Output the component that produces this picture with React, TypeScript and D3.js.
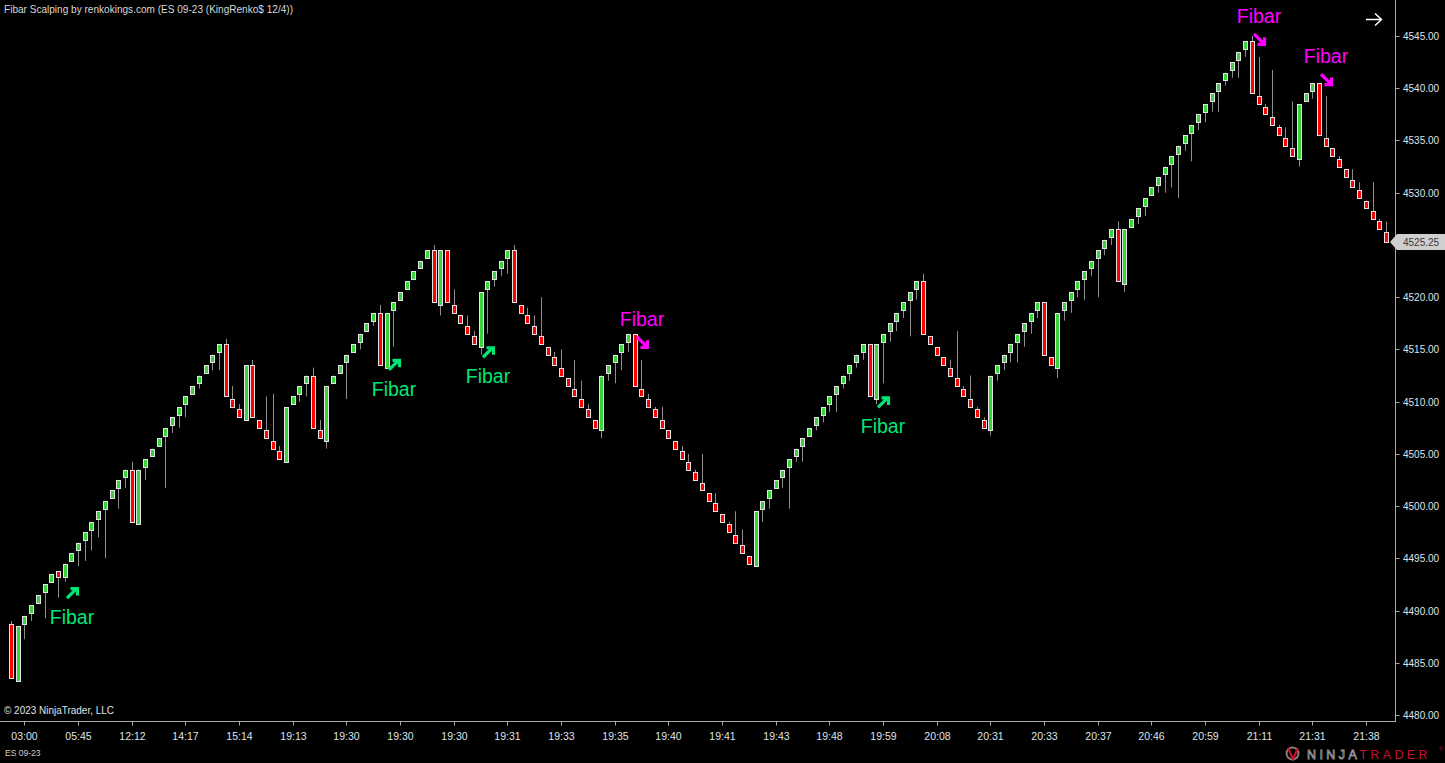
import React from "react";
import * as d3 from "d3";

// renko bars, ES 09-23 (one entry per brick)
const opens = [
  4488.75, 4483.25, 4488.75, 4489.75, 4490.75, 4491.75, 4492.75, 4493.75, 4493.25, 4494.75,
  4495.75, 4496.75, 4497.75, 4498.75, 4499.75, 4500.75, 4501.75, 4502.75, 4503.5, 4498.25,
  4503.75, 4504.75, 4505.75, 4506.75, 4507.75, 4508.75, 4509.75, 4510.75, 4511.75, 4512.75,
  4513.75, 4514.75, 4515.5, 4510.25, 4509.25, 4508.25, 4513.5, 4508.25, 4507.25, 4506.25,
  4505.25, 4504.25, 4509.75, 4510.75, 4511.75, 4512.5, 4507.25, 4506.25, 4511.75, 4512.75,
  4513.75, 4514.75, 4515.75, 4516.75, 4517.75, 4518.5, 4513.25, 4518.75, 4519.75, 4520.75,
  4521.75, 4522.75, 4523.75, 4524.5, 4519.25, 4524.5, 4519.25, 4518.25, 4517.25, 4516.25,
  4515.25, 4520.75, 4521.75, 4522.75, 4523.75, 4524.5, 4519.25, 4518.25, 4517.25, 4516.25,
  4515.25, 4514.25, 4513.25, 4512.25, 4511.25, 4510.25, 4509.25, 4508.25, 4507.25, 4512.75,
  4513.75, 4514.75, 4515.75, 4516.5, 4511.25, 4510.25, 4509.25, 4508.25, 4507.25, 4506.25,
  4505.25, 4504.25, 4503.25, 4502.25, 4501.25, 4500.25, 4499.25, 4498.25, 4497.25, 4496.25,
  4495.25, 4494.25, 4499.75, 4500.75, 4501.75, 4502.75, 4503.75, 4504.75, 4505.75, 4506.75,
  4507.75, 4508.75, 4509.75, 4510.75, 4511.75, 4512.75, 4513.75, 4514.75, 4515.5, 4510.25,
  4515.75, 4516.75, 4517.75, 4518.75, 4519.75, 4520.75, 4521.5, 4516.25, 4515.25, 4514.25,
  4513.25, 4512.25, 4511.25, 4510.25, 4509.25, 4508.25, 4507.25, 4512.75, 4513.75, 4514.75,
  4515.75, 4516.75, 4517.75, 4518.75, 4519.5, 4514.25, 4513.25, 4518.75, 4519.75, 4520.75,
  4521.75, 4522.75, 4523.75, 4524.75, 4525.75, 4526.5, 4521.25, 4526.75, 4527.75, 4528.75,
  4529.75, 4530.75, 4531.75, 4532.75, 4533.75, 4534.75, 4535.75, 4536.75, 4537.75, 4538.75,
  4539.75, 4540.75, 4541.75, 4542.75, 4543.75, 4544.5, 4539.25, 4538.25, 4537.25, 4536.25,
  4535.25, 4534.25, 4533.25, 4538.75, 4539.75, 4540.5, 4535.25, 4534.25, 4533.25, 4532.25,
  4531.25, 4530.25, 4529.25, 4528.25, 4527.25, 4526.25,
];

const closes = [
  4483.5, 4488.5, 4489.5, 4490.5, 4491.5, 4492.5, 4493.5, 4493.25, 4494.5, 4495.5,
  4496.5, 4497.5, 4498.5, 4499.5, 4500.5, 4501.5, 4502.5, 4503.5, 4498.5, 4503.5,
  4504.5, 4505.5, 4506.5, 4507.5, 4508.5, 4509.5, 4510.5, 4511.5, 4512.5, 4513.5,
  4514.5, 4515.5, 4510.5, 4509.5, 4508.5, 4513.5, 4508.5, 4507.5, 4506.5, 4505.5,
  4504.5, 4509.5, 4510.5, 4511.5, 4512.5, 4507.5, 4506.5, 4511.5, 4512.5, 4513.5,
  4514.5, 4515.5, 4516.5, 4517.5, 4518.5, 4513.5, 4518.5, 4519.5, 4520.5, 4521.5,
  4522.5, 4523.5, 4524.5, 4519.5, 4524.5, 4519.5, 4518.5, 4517.5, 4516.5, 4515.5,
  4520.5, 4521.5, 4522.5, 4523.5, 4524.5, 4519.5, 4518.5, 4517.5, 4516.5, 4515.5,
  4514.5, 4513.5, 4512.5, 4511.5, 4510.5, 4509.5, 4508.5, 4507.5, 4512.5, 4513.5,
  4514.5, 4515.5, 4516.5, 4511.5, 4510.5, 4509.5, 4508.5, 4507.5, 4506.5, 4505.5,
  4504.5, 4503.5, 4502.5, 4501.5, 4500.5, 4499.5, 4498.5, 4497.5, 4496.5, 4495.5,
  4494.5, 4499.5, 4500.5, 4501.5, 4502.5, 4503.5, 4504.5, 4505.5, 4506.5, 4507.5,
  4508.5, 4509.5, 4510.5, 4511.5, 4512.5, 4513.5, 4514.5, 4515.5, 4510.5, 4515.5,
  4516.5, 4517.5, 4518.5, 4519.5, 4520.5, 4521.5, 4516.5, 4515.5, 4514.5, 4513.5,
  4512.5, 4511.5, 4510.5, 4509.5, 4508.5, 4507.5, 4512.5, 4513.5, 4514.5, 4515.5,
  4516.5, 4517.5, 4518.5, 4519.5, 4514.5, 4513.5, 4518.5, 4519.5, 4520.5, 4521.5,
  4522.5, 4523.5, 4524.5, 4525.5, 4526.5, 4521.5, 4526.5, 4527.5, 4528.5, 4529.5,
  4530.5, 4531.5, 4532.5, 4533.5, 4534.5, 4535.5, 4536.5, 4537.5, 4538.5, 4539.5,
  4540.5, 4541.5, 4542.5, 4543.5, 4544.5, 4539.5, 4538.5, 4537.5, 4536.5, 4535.5,
  4534.5, 4533.5, 4538.5, 4539.5, 4540.5, 4535.5, 4534.5, 4533.5, 4532.5, 4531.5,
  4530.5, 4529.5, 4528.5, 4527.5, 4526.5, 4525.25,
];

// [bar index, price] of wicks that reach past the body
const upperWicks: [number, number][] = [
  [0, 4489], [18, 4504.25], [32, 4516], [33, 4511.5], [34, 4509.75], [36, 4514], [38, 4510.5],
  [39, 4510.75], [40, 4505.75], [45, 4513.25], [46, 4508.25], [55, 4519.25], [63, 4525],
  [66, 4520.75], [68, 4518.25], [69, 4516.75], [75, 4525], [77, 4519], [78, 4518.25], [79, 4520],
  [81, 4514.75], [82, 4515], [84, 4514], [85, 4512], [86, 4509.75], [94, 4514], [95, 4510.75],
  [96, 4509.5], [97, 4509.5], [100, 4505.75], [101, 4505], [102, 4503.5], [103, 4505],
  [105, 4501.25], [107, 4498.5], [108, 4499.5], [109, 4497.75], [136, 4522.25], [140, 4514],
  [141, 4516.75], [142, 4511.5], [143, 4512.5], [144, 4509.5], [145, 4508.5], [165, 4527.25],
  [185, 4545], [186, 4543], [187, 4538.5], [188, 4541.75], [189, 4536.5], [190, 4536.25],
  [191, 4538.75], [196, 4539.25], [198, 4533.5], [199, 4532.25], [200, 4532.25], [201, 4531],
  [203, 4531], [204, 4527.5], [205, 4527.25],
];

const lowerWicks: [number, number][] = [
  [2, 4487.25], [3, 4489], [5, 4489.25], [7, 4491.25], [8, 4492.75], [10, 4494.25], [11, 4494.75],
  [12, 4495.75], [13, 4497], [14, 4495], [16, 4499.75], [17, 4501.75], [20, 4502.5], [23, 4501.75],
  [24, 4507], [25, 4507.5], [26, 4508.5], [28, 4511.25], [30, 4513], [31, 4513], [43, 4510],
  [44, 4510.5], [47, 4505.5], [50, 4510.25], [52, 4515], [54, 4517.25], [57, 4515.25],
  [64, 4518.25], [70, 4514.5], [71, 4516.5], [72, 4521], [73, 4522], [74, 4522.25], [88, 4506.5],
  [89, 4512], [90, 4511.75], [91, 4513], [92, 4514.75], [112, 4498.5], [113, 4499.75],
  [115, 4501.75], [116, 4499.75], [117, 4504.25], [118, 4504.25], [120, 4507.25], [121, 4508],
  [122, 4509], [123, 4509], [124, 4511.25], [125, 4512], [126, 4513.25], [127, 4514],
  [129, 4509.75], [130, 4511.75], [131, 4515.75], [132, 4516.75], [133, 4518], [134, 4516.25],
  [135, 4519.75], [146, 4506.75], [147, 4512], [148, 4513], [149, 4513.75], [150, 4513.75],
  [151, 4515.25], [152, 4516.5], [153, 4518], [156, 4512.25], [157, 4517.75], [158, 4518.5],
  [159, 4520], [160, 4519.75], [161, 4522], [162, 4520], [163, 4524], [164, 4525], [166, 4520.5],
  [168, 4527], [169, 4527.75], [171, 4530], [172, 4530], [173, 4530.5], [174, 4529.5],
  [175, 4534], [176, 4533], [177, 4536], [178, 4536.75], [179, 4537.75], [180, 4537.75],
  [181, 4540.25], [182, 4541], [183, 4541], [184, 4543], [192, 4532.5], [194, 4539],
];

// Fibar signals: bar index and the price the arrow tip sits at
const fibarLongBars = [8, 56, 70, 129];
const fibarLongLevels = [4492.25, 4514.1, 4515.3, 4510.5];
const fibarShortBars = [93, 185, 195];
const fibarShortLevels = [4516.3, 4545.3, 4541.45];

const timeLabels = [
  "03:00", "05:45", "12:12", "14:17", "15:14", "19:13", "19:30", "19:30", "19:30", "19:31",
  "19:33", "19:35", "19:40", "19:41", "19:43", "19:48", "19:59", "20:08", "20:31", "20:33",
  "20:37", "20:46", "20:59", "21:11", "21:31", "21:38",
];
const timeLabelStart = 2;
const timeLabelEvery = 8;

const priceTicks = [4480, 4485, 4490, 4495, 4500, 4505, 4510, 4515, 4520, 4525, 4530, 4535, 4540, 4545];
const lastPrice = 4525.25;

const W = 1445;
const H = 763;
const FONT = "'Liberation Sans', Arial, sans-serif";
const UP = "#3ad23a";
const DOWN = "#ff0000";
const OUTLINE = "#e4e4e4";
const WICK = "#8c8c8c";
const AXIS = "#a8a8a8";
const LABEL = "#dfe3ea";
const LONG = "#00e676";
const SHORT = "#ff00ff";

const App: React.FC = () => {
  const x = d3.scaleLinear().domain([0, closes.length - 1]).range([11, 1386]);
  const y = d3.scaleLinear().domain([4480, 4545]).range([715, 36]);

  const upper = new Map(upperWicks);
  const lower = new Map(lowerWicks);

  const bars = closes.map((c, i) => {
    const o = opens[i];
    const hi = Math.max(o, c, upper.get(i) ?? -Infinity);
    const lo = Math.min(o, c, lower.get(i) ?? Infinity);
    return { i, o, c, hi, lo, up: c >= o };
  });

  const axisX = 1395.5;
  const axisY = 721.5;
  const tagY = Math.round(y(lastPrice));

  return (
    <svg
      width={W}
      height={H}
      style={{ position: "absolute", left: 0, top: 0, display: "block" }}
      fontFamily={FONT}
    >
      <rect width={W} height={H} fill="#000" />

      <text x={4} y={13} fill="#d8d8d8" fontSize={10.5} textLength={289} lengthAdjust="spacingAndGlyphs">
        Fibar Scalping by renkokings.com (ES 09-23 (KingRenko$ 12/4))
      </text>

      {/* candles */}
      <g>
        {bars.map((b) => {
          const cx = Math.round(x(b.i));
          const top = Math.round(y(Math.max(b.o, b.c)));
          const bot = Math.round(y(Math.min(b.o, b.c)));
          return (
            <g key={b.i}>
              <line
                x1={cx + 0.5}
                x2={cx + 0.5}
                y1={y(b.hi)}
                y2={y(b.lo)}
                stroke={WICK}
                strokeWidth={1}
              />
              <rect
                x={cx - 1.5}
                y={top + 0.5}
                width={4}
                height={Math.max(bot - top, 2)}
                fill={b.up ? UP : DOWN}
                stroke={OUTLINE}
                strokeWidth={1}
              />
            </g>
          );
        })}
      </g>

      {/* Fibar long signals */}
      {fibarLongBars.map((bi, k) => {
        const ax = Math.round(x(bi)) + 1;
        const ay = y(fibarLongLevels[k]);
        return (
          <g key={"l" + bi}>
            <path
              d={`M${ax + 1},${ay + 11} L${ax + 11},${ay + 1} M${ax + 4.5},${ay + 1.5} L${ax + 11.5},${ay + 1.5} L${ax + 11.5},${ay + 8.5}`}
              fill="none"
              stroke={LONG}
              strokeWidth={3.2}
            />
            <text x={ax + 6} y={ay + 37} fill={LONG} fontSize={19.5} textAnchor="middle">
              Fibar
            </text>
          </g>
        );
      })}

      {/* Fibar short signals */}
      {fibarShortBars.map((bi, k) => {
        const ax = Math.round(x(bi)) + 1;
        const ay = y(fibarShortLevels[k]);
        return (
          <g key={"s" + bi}>
            <path
              d={`M${ax + 1},${ay + 1} L${ax + 11},${ay + 11} M${ax + 4.5},${ay + 11.5} L${ax + 11.5},${ay + 11.5} L${ax + 11.5},${ay + 4.5}`}
              fill="none"
              stroke={SHORT}
              strokeWidth={3.2}
            />
            <text x={ax + 6} y={ay - 10} fill={SHORT} fontSize={19.5} textAnchor="middle">
              Fibar
            </text>
          </g>
        );
      })}

      {/* price axis */}
      <line x1={axisX} x2={axisX} y1={0} y2={axisY} stroke={AXIS} strokeWidth={1} />
      {priceTicks.map((v) => {
        const ty = Math.round(y(v)) + 0.5;
        const hidden = Math.abs(ty - tagY) < 12;
        return (
          <g key={v} transform={`translate(0,${ty})`}>
            <line x1={axisX} x2={axisX + 4} stroke={AXIS} />
            {!hidden && (
              <text x={1403} dy="0.35em" fill={LABEL} fontSize={10}>
                {d3.format(".2f")(v)}
              </text>
            )}
          </g>
        );
      })}
      <g transform={`translate(0,${tagY})`}>
        <path d="M1390,0 L1397,-8 L1445,-8 L1445,8 L1397,8 Z" fill="#cfcfcf" />
        <text x={1403} dy="0.35em" fill="#3a3a3a" fontSize={10}>
          {d3.format(".2f")(lastPrice)}
        </text>
      </g>

      {/* time axis */}
      <line x1={0} x2={axisX + 0.5} y1={axisY} y2={axisY} stroke={AXIS} strokeWidth={1} />
      {timeLabels.map((t, k) => {
        const tx = Math.round(x(timeLabelStart + k * timeLabelEvery)) + 0.5;
        return (
          <g key={k}>
            <line x1={tx} x2={tx} y1={axisY} y2={axisY + 4} stroke={AXIS} />
            <text x={tx} y={740} fill={LABEL} fontSize={10.5} textAnchor="middle">
              {t}
            </text>
          </g>
        );
      })}

      <text x={4} y={714} fill="#e0e0e0" fontSize={10.5} textLength={110} lengthAdjust="spacingAndGlyphs">
        © 2023 NinjaTrader, LLC
      </text>
      <text x={5} y={756} fill="#d0d0d0" fontSize={8.5}>
        ES 09-23
      </text>

      {/* scroll-to-end arrow */}
      <path d="M1366,19.5 L1381,19.5 M1375,13.5 L1381.5,19.5 L1375,25.5" fill="none" stroke="#fff" strokeWidth={1.5} />

      {/* NinjaTrader logo */}
      <g>
        <circle cx={1292.5} cy={753.5} r={6} fill="none" stroke="#8a7a70" strokeWidth={2} />
        <path d="M1288,748 L1293,759 L1298,748" fill="none" stroke="#c8102e" strokeWidth={2} />
        <text x={1307} y={759} fontSize={12.5} letterSpacing={3.4}>
          <tspan fill="none" stroke="#9a9a9a" strokeWidth={0.8}>NINJA</tspan>
          <tspan fill="#c8102e">TRADER</tspan>
        </text>
        <text x={1439} y={751} fontSize={5} fill="#c8102e">®</text>
      </g>
    </svg>
  );
};

export default App;
